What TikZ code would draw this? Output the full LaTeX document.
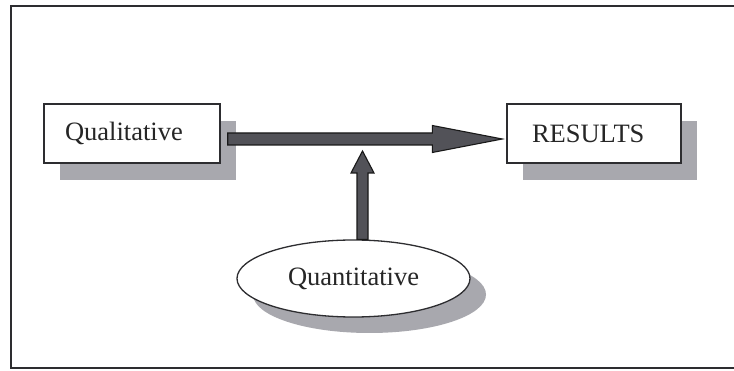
\documentclass[tikz,border=0pt]{standalone}
\usepackage{fontspec}
\setmainfont{Liberation Serif}
\usetikzlibrary{shapes.geometric,shadows,calc}
\definecolor{edge}{RGB}{45,45,48}
\definecolor{shade}{RGB}{168,168,174}
\definecolor{arrowfill}{RGB}{82,82,88}
\begin{document}
\begin{tikzpicture}[x=1pt,y=-1pt,
  label/.style={font=\fontsize{26.5}{30}\selectfont, text=black!85},
  rectbox/.style={label, draw=edge, line width=1.4pt, fill=white, minimum height=59pt,
    align=left, inner ysep=0pt,
    general shadow={fill=shade, shadow xshift=16pt, shadow yshift=-17pt}},
  ovalbox/.style={label, ellipse, draw=edge, line width=1.3pt, fill=white,
    minimum width=233pt, minimum height=77pt, inner sep=0pt,
    general shadow={fill=shade, shadow xshift=16pt, shadow yshift=-16pt}},
  bigarrow/.style={draw=black!90, line width=1.1pt, fill=arrowfill, line join=miter}]
  \useasboundingbox (0,0) rectangle (734,371);
  \clip (0,0) rectangle (734,371);
  \fill[white] (0,0) rectangle (734,371);
  % outer frame, running past the right edge
  \draw[edge, line width=2pt] (760,6) -- (11,6) -- (11,368) -- (760,368);

  % boxes
  \node[rectbox, inner xsep=21pt, text width=134pt] (qual) at (132,133.5) {Qualitative};
  \node[rectbox, inner xsep=25pt, text width=124pt] (res) at (594,133.5) {RESULTS};
  \node[ovalbox] (quant) at (353.5,278.5) {Quantitative};

  % horizontal block arrow from Qualitative to RESULTS
  \coordinate (hA) at ($(qual.east)+(7,5.5)$);
  \coordinate (hB) at ($(res.west)+(-4,5.5)$);
  \draw[bigarrow] ($(hA)+(0,-6)$) -- ($(hB)+(-70,-6)$) -- ($(hB)+(-70,-13.5)$)
    -- (hB) -- ($(hB)+(-70,13.5)$) -- ($(hB)+(-70,6)$) -- ($(hA)+(0,6)$) -- cycle;

  % vertical block arrow from Quantitative up to the main arrow
  \coordinate (vA) at ($(quant.north)+(9,0)$);
  \coordinate (vB) at ($(hA)!(vA)!(hB)+(0,12)$);
  \draw[bigarrow] ($(vA)+(-5.5,0)$) -- ($(vB)+(-5.5,22)$) -- ($(vB)+(-11.5,22)$)
    -- (vB) -- ($(vB)+(11.5,22)$) -- ($(vB)+(5.5,22)$) -- ($(vA)+(5.5,0)$) -- cycle;
\end{tikzpicture}
\end{document}
